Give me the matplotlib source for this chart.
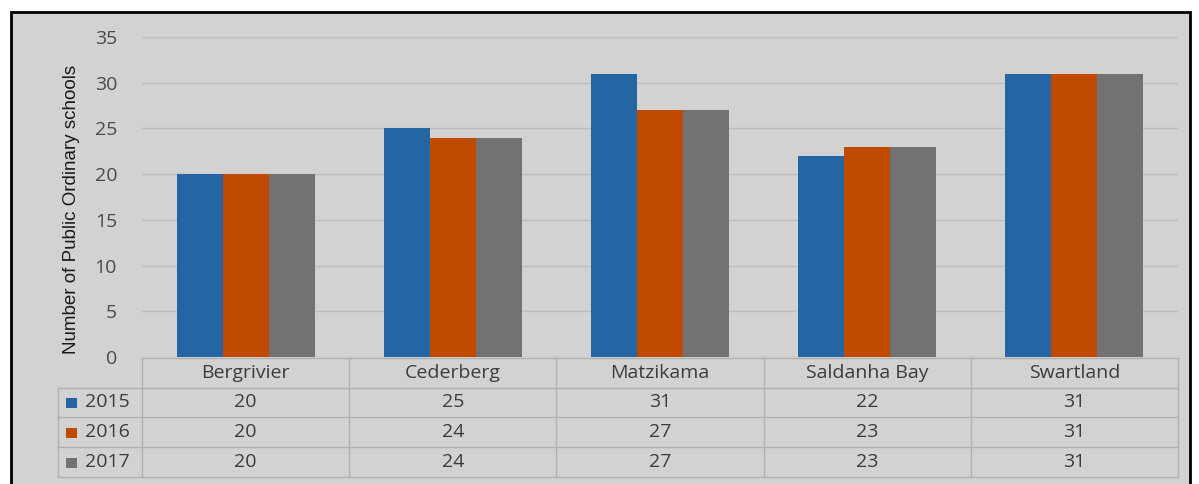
import matplotlib.pyplot as plt
import matplotlib.patches as mpatches
import numpy as np

categories = ["Bergrivier", "Cederberg", "Matzikama", "Saldanha Bay", "Swartland"]
years = ["2015", "2016", "2017"]
v2015 = [20, 25, 31, 22, 31]
v2016 = [20, 24, 27, 23, 31]
v2017 = [20, 24, 27, 23, 31]
series = [v2015, v2016, v2017]
colors = ["#2465a4", "#c04a00", "#727272"]
bg = "#d2d2d2"
grid_c = "#bdbdbd"
txt_c = "#3c3c3c"
fs = 14

W, H = 1199, 484
fig = plt.figure(figsize=(W / 100, H / 100), dpi=100)
fig.patch.set_facecolor("white")

# outer frame
fig.patches.append(mpatches.Rectangle((11 / W, -0.01), (1190 - 11) / W, 1 - 12 / H + 0.01,
                                      transform=fig.transFigure, facecolor=bg,
                                      edgecolor="black", lw=2, zorder=-10))

def fx(px):
    return px / W

def fy(py):
    return 1 - py / H

x0, x1 = 142, 1178
y_top, y_zero = 37, 357
ax = fig.add_axes([fx(x0), fy(y_zero), fx(x1) - fx(x0), fy(y_top) - fy(y_zero)])
ax.set_facecolor("none")
x = np.arange(len(categories))
bw = 0.222
for i, (vals, c) in enumerate(zip(series, colors)):
    ax.bar(x + (i - 1) * bw, vals, bw, color=c, zorder=3)
ax.set_xlim(-0.5, len(categories) - 0.5)
ax.set_ylim(0, 35)
ax.set_yticks(range(0, 36, 5))
ax.yaxis.grid(True, color=grid_c, lw=1, zorder=0)
ax.set_xticks([])
for s in ax.spines.values():
    s.set_visible(False)
ax.tick_params(axis="y", length=0, pad=18, labelsize=fs, labelcolor="#4a4a4a")
for lab in ax.get_yticklabels():
    lab.set_fontfamily("Open Sans")
ax.set_ylabel("Number of Public Ordinary schools", fontsize=13.5, color="#1a1a1a",
              family="Liberation Sans")
ax.yaxis.set_label_coords(-0.06, 0.46)

# data table below the chart
tax = fig.add_axes([0, 0, 1, 1])
tax.set_xlim(0, W)
tax.set_ylim(H, 0)
tax.axis("off")
row_y = [358, 387.5, 417, 447, 477]
col_x = [x0 + (x1 - x0) * k / len(categories) for k in range(len(categories) + 1)]
lab_left = 58
line_c = "#b0b0b0"
# horizontal lines
tax.plot([x0, x1], [row_y[0], row_y[0]], color=line_c, lw=1)
for yy in row_y[1:]:
    tax.plot([lab_left, x1], [yy, yy], color=line_c, lw=1)
# vertical lines
tax.plot([lab_left, lab_left], [row_y[1], row_y[-1]], color=line_c, lw=1)
for xx in col_x:
    tax.plot([xx, xx], [row_y[0], row_y[-1]], color=line_c, lw=1)
for j, cat in enumerate(categories):
    tax.text((col_x[j] + col_x[j + 1]) / 2, (row_y[0] + row_y[1]) / 2, cat,
             ha="center", va="center", fontsize=fs, color=txt_c, family="Open Sans")
for i, (yr, vals, c) in enumerate(zip(years, series, colors)):
    yc = (row_y[i + 1] + row_y[i + 2]) / 2
    tax.add_patch(mpatches.Rectangle((66, yc - 4.5), 11, 10, facecolor=c, edgecolor="none"))
    tax.text(85, yc, yr, ha="left", va="center", fontsize=fs, color=txt_c, family="Open Sans")
    for j, v in enumerate(vals):
        tax.text((col_x[j] + col_x[j + 1]) / 2, yc, str(v), ha="center", va="center",
                 fontsize=fs, color=txt_c, family="Open Sans")

fig.savefig("out.png", dpi=100)
